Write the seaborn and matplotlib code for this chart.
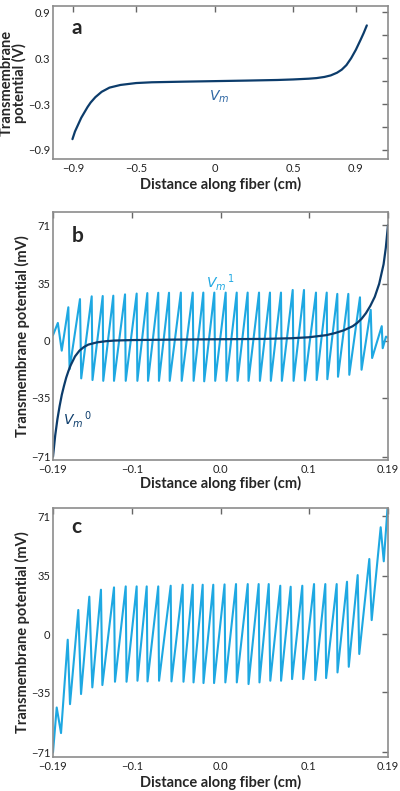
import numpy as np
import pandas as pd
import matplotlib
matplotlib.use("Agg")
import matplotlib.pyplot as plt
import seaborn as sns

# ---- panel a: steady-state Vm along a long fiber (V) ----
a_x = [-0.906, -0.89, -0.87, -0.85, -0.83, -0.81, -0.79, -0.76, -0.72, -0.67,
       -0.60, -0.50, -0.40, -0.20, 0.0, 0.20, 0.40, 0.50, 0.60, 0.65,
       0.70, 0.74, 0.78, 0.81, 0.84, 0.87, 0.90, 0.93, 0.95, 0.97]
a_vm = [-0.76, -0.66, -0.57, -0.48, -0.41, -0.34, -0.28, -0.21, -0.14, -0.085,
        -0.05, -0.025, -0.015, -0.007, 0.0, 0.007, 0.015, 0.022, 0.032, 0.04,
        0.055, 0.075, 0.11, 0.15, 0.21, 0.30, 0.41, 0.54, 0.63, 0.73]

# ---- panel b: Vm0 (smooth) and Vm1 (sawtooth), mV ----
b0_x = [-0.19, -0.1875, -0.185, -0.1825, -0.18, -0.1775, -0.175, -0.1725, -0.17,
        -0.165, -0.16, -0.155, -0.15, -0.14, -0.13, -0.12, -0.10, -0.05, 0.0,
        0.05, 0.08, 0.10, 0.12, 0.13, 0.14, 0.15, 0.155, 0.16, 0.165, 0.17,
        0.175, 0.18, 0.185, 0.1875, 0.19]
b0_vm = [-71, -58, -48, -40, -33, -27.5, -22.5, -18.5, -15,
         -9.5, -6, -3.8, -2.3, -0.9, -0.2, 0.2, 0.5, 0.8, 1.0,
         1.2, 1.6, 2.2, 3.5, 4.8, 6.5, 9, 11, 13.5, 17, 21.5,
         27, 35, 47, 57, 71]

b1_x = [-0.19,
        -0.1845, -0.1801, -0.1726, -0.1712, -0.1594, -0.1580, -0.1461, -0.1452,
        -0.1336, -0.1330, -0.1216, -0.1208, -0.1083, -0.1075, -0.0951, -0.0943,
        -0.0830, -0.0822, -0.0706, -0.0698, -0.0584, -0.0576, -0.0450, -0.0440,
        -0.0315, -0.0305, -0.0195, -0.0185, -0.0070, -0.0060, 0.0059, 0.0068,
        0.0184, 0.0193, 0.0308, 0.0318, 0.0437, 0.0447, 0.0561, 0.0571,
        0.0686, 0.0696, 0.0819, 0.0829, 0.0947, 0.0957, 0.1083, 0.1091,
        0.1205, 0.1212, 0.1325, 0.1333, 0.1450, 0.1461, 0.1582, 0.1600,
        0.1704, 0.1720, 0.1829, 0.1840, 0.1877, 0.19]
b1_vm = [3.5,
         11, -6, 20.6, -17.3, 25.6, -23, 27.3, -24,
         27.5, -24.5, 27.7, -24.5, 28.5, -24.5, 29.0, -24.5,
         29.3, -24.5, 29.5, -24.5, 29.5, -24.5, 29.6, -24.5,
         29.6, -24.5, 29.6, -24.8, 29.6, -24.5, 29.6, -24.5,
         29.6, -24.5, 29.6, -24.5, 29.6, -24.5, 29.6, -24.5,
         29.6, -24.5, 31.2, -24.5, 31.2, -24.3, 29.6, -24,
         29.6, -23.5, 28.8, -22, 28.8, -20.8, 26.7, -17.7,
         19.0, -10.5, 9.0, -4.5, 2.6, 2.0]

# ---- panel c: total Vm (sawtooth), mV ----
c_x = [-0.19,
       -0.1858, -0.1809, -0.1733, -0.1707, -0.1613, -0.1582, -0.1488, -0.1454,
       -0.1356, -0.1340, -0.1208, -0.1197, -0.1075, -0.1066, -0.0951, -0.0942,
       -0.0837, -0.0828, -0.0706, -0.0697, -0.0565, -0.0556, -0.0429, -0.0420,
       -0.0315, -0.0306, -0.0202, -0.0193, -0.0082, -0.0073, 0.0046, 0.0055,
       0.0176, 0.0185, 0.0309, 0.0318, 0.0433, 0.0442, 0.0547, 0.0565,
       0.0678, 0.0687, 0.0796, 0.0812, 0.0928, 0.0939, 0.1061, 0.1075,
       0.1189, 0.1198, 0.1318, 0.1327, 0.1435, 0.1455, 0.1556, 0.1574,
       0.1688, 0.1715, 0.1817, 0.1852, 0.19]
c_vm = [-71.3,
        -44.2, -59.6, -3.4, -42.2, 14.5, -36.1, 22.5, -32.1,
        26.7, -30.7, 28.1, -28.7, 28.7, -28.7, 28.7, -28.1,
        28.7, -28.5, 28.7, -28.1, 29.1, -28.5, 29.7, -28.7,
        29.7, -29.1, 29.7, -29.5, 29.7, -29.5, 29.9, -29.1,
        30.1, -29.1, 30.1, -30.1, 30.1, -29.1, 30.1, -28.1,
        29.1, -28.1, 28.5, -27.1, 29.1, -27.1, 30.1, -27.7,
        30.1, -26.5, 30.1, -23.1, 31.5, -19.7, 35.5, -12.0,
        45.2, 8.4, 64.3, 43.8, 80]

a_xticks = [-0.9, -0.5, 0, 0.5, 0.9]
a_xticklabels = ["\u22120.9", "\u22120.5", "0", "0.5", "0.9"]
a_yticks = [-0.9, -0.6, -0.3, 0, 0.3, 0.6, 0.9]
a_yticklabels = ["\u22120.9", "", "\u22120.3", "", "0.3", "", "0.9"]
bc_xticks = [-0.19, -0.1, 0.0, 0.1, 0.19]
bc_xticklabels = ["\u22120.19", "\u22120.1", "0.0", "0.1", "0.19"]
bc_yticks = [-71, -35, 0, 35, 71]
bc_yticklabels = ["\u221271", "\u221235", "0", "35", "71"]

DARK = "#0c3c6b"
LIGHT = "#1ea8e2"
SPINE = "#8c8c8c"

sns.set_style("white")
plt.rcParams["font.family"] = ["Lato", "DejaVu Sans"]
plt.rcParams["axes.unicode_minus"] = True

fig = plt.figure(figsize=(4.0, 7.91), dpi=100)
ax_a = fig.add_axes([0.1325, 0.799, 0.8375, 0.193])
ax_b = fig.add_axes([0.1325, 0.4185, 0.8375, 0.3135])
ax_c = fig.add_axes([0.1325, 0.043, 0.8375, 0.315])


def style_axes(ax):
    for s in ax.spines.values():
        s.set_visible(True)
        s.set_color(SPINE)
        s.set_linewidth(1.2)
    ax.tick_params(direction="in", length=4, width=1, color="#666666",
                   top=True, right=True, labelsize=8, labelcolor="#222222", pad=3)
    ax.tick_params(axis="y", pad=2)
    ax.set_xlabel("Distance along fiber (cm)", fontsize=10.5, fontweight="bold")


# panel a
df_a = pd.DataFrame({"x": a_x, "vm": a_vm})
sns.lineplot(data=df_a, x="x", y="vm", ax=ax_a, color=DARK, lw=1.6,
             sort=False, estimator=None)
ax_a.set_xlim(-1.03, 1.105)
ax_a.set_ylim(-1.02, 0.98)
ax_a.set_xticks(a_xticks, a_xticklabels)
ax_a.set_yticks(a_yticks, a_yticklabels)
style_axes(ax_a)
ax_a.set_ylabel("")
# two-line y label, each line placed on its own
for xpos, line in [(-0.138, "Transmembrane"), (-0.099, "potential (V)")]:
    ax_a.text(xpos, 0.5, line, transform=ax_a.transAxes, rotation=90,
              rotation_mode="anchor", ha="center", va="center",
              fontsize=10.5, fontweight="bold")
ax_a.xaxis.set_label_coords(0.5, -0.115)
ax_a.text(0.055, 0.86, "a", transform=ax_a.transAxes, fontsize=15,
          fontweight="bold", ha="left", va="center")
ax_a.text(0.03, -0.21, "$V_m$", color="#2d66a3", fontsize=10, ha="center", va="center")

# panel b
df_b0 = pd.DataFrame({"x": b0_x, "vm": b0_vm})
df_b1 = pd.DataFrame({"x": b1_x, "vm": b1_vm})
sns.lineplot(data=df_b1, x="x", y="vm", ax=ax_b, color=LIGHT, lw=1.5,
             sort=False, estimator=None)
sns.lineplot(data=df_b0, x="x", y="vm", ax=ax_b, color=DARK, lw=1.6,
             sort=False, estimator=None)
ax_b.set_xlim(-0.19, 0.19)
ax_b.set_ylim(-73, 79)
ax_b.set_xticks(bc_xticks, bc_xticklabels)
ax_b.set_yticks(bc_yticks, bc_yticklabels)
style_axes(ax_b)
ax_b.set_ylabel("Transmembrane potential (mV)", fontsize=10.5, fontweight="bold")
ax_b.yaxis.set_label_coords(-0.07, 0.5)
ax_b.xaxis.set_label_coords(0.5, -0.066)
ax_b.text(0.055, 0.905, "b", transform=ax_b.transAxes, fontsize=15,
          fontweight="bold", ha="left", va="center")
ax_b.text(0.0, 36, "$V_m$$^{\\,1}$", color=LIGHT, fontsize=10, ha="center", va="center")
ax_b.text(-0.1625, -48, "$V_m$$^{\\,0}$", color=DARK, fontsize=10, ha="center", va="center")

# panel c
df_c = pd.DataFrame({"x": c_x, "vm": c_vm})
sns.lineplot(data=df_c, x="x", y="vm", ax=ax_c, color=LIGHT, lw=1.5,
             sort=False, estimator=None)
ax_c.set_xlim(-0.19, 0.19)
ax_c.set_ylim(-74, 76)
ax_c.set_xticks(bc_xticks, bc_xticklabels)
ax_c.set_yticks(bc_yticks, bc_yticklabels)
style_axes(ax_c)
ax_c.set_ylabel("Transmembrane potential (mV)", fontsize=10.5, fontweight="bold")
ax_c.yaxis.set_label_coords(-0.07, 0.5)
ax_c.xaxis.set_label_coords(0.5, -0.072)
ax_c.text(0.055, 0.925, "c", transform=ax_c.transAxes, fontsize=15,
          fontweight="bold", ha="left", va="center")

fig.savefig("out.png", dpi=100)
